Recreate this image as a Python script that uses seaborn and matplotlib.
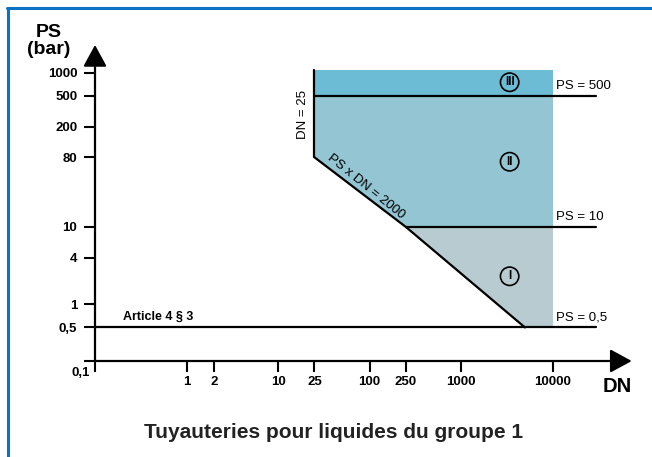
import numpy as np
import pandas as pd
import matplotlib
matplotlib.use("Agg")
import matplotlib.pyplot as plt
from matplotlib.lines import Line2D
import seaborn as sns

# ---- chart data -------------------------------------------------------
x_ticks = [0.1, 1, 2, 10, 25, 100, 250, 1000, 10000]
x_tick_labels = ["", "1", "2", "10", "25", "100", "250", "1000", "10000"]
y_ticks = [0.1, 0.5, 1, 4, 10, 80, 200, 500, 1000]
y_tick_labels = ["", "0,5", "1", "4", "10", "80", "200", "500", "1000"]
origin_label = "0,1"

# boundary lines (DN, PS)
seg_dn25_dn = [25, 25]
seg_dn25_ps = [80, 1080]
seg_diag_dn = [25, 250, 5000]
seg_diag_ps = [80, 10, 0.5]
seg_ps500_dn = [25, 30000]
seg_ps500_ps = [500, 500]
seg_ps10_dn = [250, 30000]
seg_ps10_ps = [10, 10]
seg_ps05_dn = [0.1, 30000]
seg_ps05_ps = [0.5, 0.5]

# category areas
cat3_dn = [25, 10000, 10000, 25]
cat3_ps = [500, 500, 1080, 1080]
cat2_dn = [25, 25, 10000, 10000, 250]
cat2_ps = [80, 500, 500, 10, 10]
cat1_dn = [250, 10000, 10000, 5000]
cat1_ps = [10, 10, 0.5, 0.5]

# category markers
cat_names = ["III", "II", "I"]
cat_dn = [3400, 3400, 3400]
cat_ps = [750, 70, 2.3]

# line labels
ps_labels = ["PS = 500", "PS = 10", "PS = 0,5"]
ps_values = [500, 10, 0.5]
label_dn = 10000

# ---- styling ----------------------------------------------------------
sns.set_theme(style="white")
plt.rcParams["font.family"] = ["Liberation Sans", "DejaVu Sans"]
plt.rcParams["text.color"] = "black"
plt.rcParams["axes.labelcolor"] = "black"
plt.rcParams["xtick.color"] = "black"
plt.rcParams["ytick.color"] = "black"

C3 = "#6bbcd4"
C2 = "#93c5d2"
C1 = "#b8cbd0"

# y axis: logarithmic from 0,5 upward, compressed segment down to 0,1
K = 1.087
L05 = np.log10(0.5)


def fwd(v):
    v = np.asarray(v, dtype=float)
    with np.errstate(divide="ignore", invalid="ignore"):
        lg = np.log10(np.where(v > 0, v, 1.0))
    return np.where(v >= 0.5, lg, L05 - (0.5 - v) * K)


def inv(u):
    u = np.asarray(u, dtype=float)
    with np.errstate(over="ignore"):
        p = np.power(10.0, np.clip(u, -50, 50))
    return np.where(u >= L05, p, 0.5 - (L05 - u) / K)


W, H = 652, 457
fig = plt.figure(figsize=(W / 100, H / 100), dpi=100)
ax = fig.add_axes([95 / W, (H - 361) / H, 549 / W, 319.3 / H])
ax.set_xscale("log")
ax.set_yscale("function", functions=(fwd, inv))
ax.set_xlim(0.1, 1e5)
ax.set_ylim(0.1, 2512)
ax.set_facecolor("none")
for s in ax.spines.values():
    s.set_visible(False)
ax.grid(False)

# filled categories
ax.fill(cat1_dn, cat1_ps, color=C1, lw=0, zorder=1)
ax.fill(cat2_dn, cat2_ps, color=C2, lw=0, zorder=1)
ax.fill(cat3_dn, cat3_ps, color=C3, lw=0, zorder=1)

# boundary lines
segments = [
    ("dn25", seg_dn25_dn, seg_dn25_ps),
    ("diag", seg_diag_dn, seg_diag_ps),
    ("ps500", seg_ps500_dn, seg_ps500_ps),
    ("ps10", seg_ps10_dn, seg_ps10_ps),
    ("ps05", seg_ps05_dn, seg_ps05_ps),
]
rows = []
for name, xs, ys in segments:
    for i, (xv, yv) in enumerate(zip(xs, ys)):
        rows.append({"segment": name, "order": i, "DN": xv, "PS": yv})
lines_df = pd.DataFrame(rows)
sns.lineplot(data=lines_df, x="DN", y="PS", units="segment", estimator=None,
             sort=False, color="black", lw=1.6, legend=False, ax=ax, zorder=3)
ax.set_xlabel("")
ax.set_ylabel("")

# axes with arrows
arrow = dict(arrowstyle="-|>,head_length=0.55,head_width=0.3", mutation_scale=24,
             color="black", lw=1.6, shrinkA=0, shrinkB=0)
ax.annotate("", xy=(0.9776, 0), xytext=(0, 0), xycoords="axes fraction",
            textcoords="axes fraction", arrowprops=arrow, annotation_clip=False)
ax.annotate("", xy=(0, 0.9897), xytext=(0, 0), xycoords="axes fraction",
            textcoords="axes fraction", arrowprops=arrow, annotation_clip=False)

# ticks
TICK_FS = 9.5
ax.set_xticks(x_ticks, x_tick_labels, fontweight="bold", fontsize=TICK_FS)
ax.set_yticks(y_ticks, y_tick_labels, fontweight="bold", fontsize=TICK_FS)
ax.xaxis.set_minor_locator(matplotlib.ticker.NullLocator())
ax.yaxis.set_minor_locator(matplotlib.ticker.NullLocator())
ax.tick_params(axis="both", which="major", direction="out", length=8.2,
               width=1.5, color="black", labelcolor="black",
               bottom=True, left=True)
ax.tick_params(axis="x", pad=2.5)
ax.tick_params(axis="y", pad=4.5)
ax.annotate(origin_label, xy=(0.1, 0.1), xytext=(-4, -8.5), textcoords="offset points",
            ha="right", va="center", fontsize=TICK_FS, fontweight="bold")

# axis titles
fig.text(49 / W, 1 - 41 / H, "PS\n(bar)", ha="center", va="center",
         fontsize=14, fontweight="bold", linespacing=1.0)
fig.text(617 / W, 1 - 387 / H, "DN", ha="center", va="center",
         fontsize=14.5, fontweight="bold")

# line labels
for lab, ps in zip(ps_labels, ps_values):
    ax.annotate(lab, xy=(label_dn, ps), xytext=(2.5, 3), textcoords="offset points",
                ha="left", va="bottom", fontsize=9.5)

ax.annotate("DN = 25", xy=(25, 290), xytext=(-8, 0), textcoords="offset points",
            ha="center", va="center", rotation=90, fontsize=9.5)

# diagonal label, rotated along the PS x DN line
p0 = ax.transData.transform((seg_diag_dn[0], seg_diag_ps[0]))
p1 = ax.transData.transform((seg_diag_dn[-1], seg_diag_ps[-1]))
ang = np.degrees(np.arctan2(p1[1] - p0[1], p1[0] - p0[0]))
ax.annotate("PS x DN = 2000", xy=(78, 2000 / 78), xytext=(2, 3),
            textcoords="offset points", ha="center", va="bottom",
            rotation=ang, rotation_mode="anchor", fontsize=9.5)

ax.annotate("Article 4 § 3", xy=(0.2, 0.5), xytext=(0, 3.5),
            textcoords="offset points", ha="left", va="bottom",
            fontsize=9, fontweight="bold")

# category markers
ax.scatter(cat_dn, cat_ps, s=175, facecolors="none", edgecolors="black",
           linewidths=1.2, zorder=4)
for name, xv, yv in zip(cat_names, cat_dn, cat_ps):
    ax.text(xv, yv, name, ha="center", va="center", fontsize=8.5,
            fontweight="bold", zorder=5)

# caption
fig.text(334 / W, 1 - 432 / H, "Tuyauteries pour liquides du groupe 1",
         ha="center", va="center", fontsize=15, fontweight="bold", color="#222222")

# frame
frame_c = "#0a72c2"
fig.add_artist(Line2D([7 / W, 1], [1 - 7.5 / H, 1 - 7.5 / H], color=frame_c, lw=2.2,
                      transform=fig.transFigure))
fig.add_artist(Line2D([7.5 / W, 7.5 / W], [0, 1 - 7.5 / H], color=frame_c, lw=2.2,
                      transform=fig.transFigure))

fig.savefig("out.png", dpi=100)
